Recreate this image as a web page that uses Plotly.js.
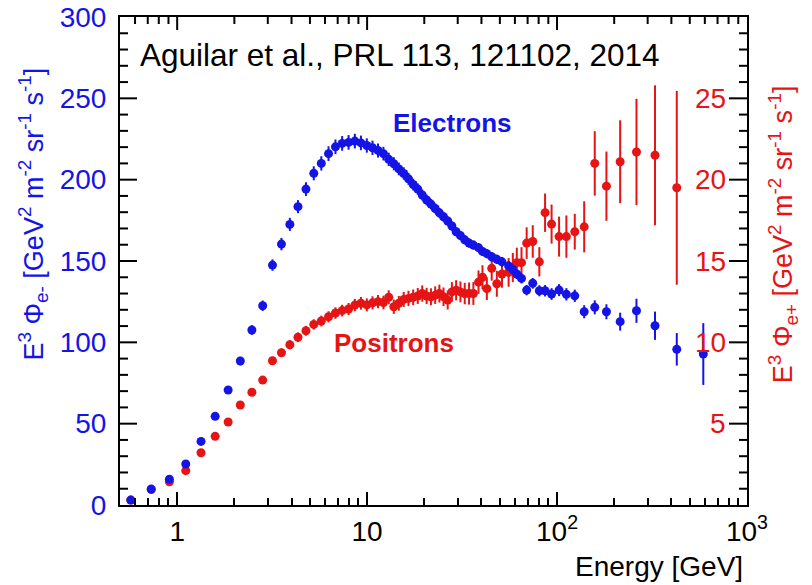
<!DOCTYPE html>
<html><head><meta charset="utf-8">
<script src="https://cdn.plot.ly/plotly-3.0.1.min.js"></script>
<style>html,body{margin:0;padding:0;background:#fff}</style>
</head><body><div id="chart" style="width:812px;height:585px"></div>
<script>
// Energy bin centres [GeV]
const energy = [0.570,0.730,0.910,1.110,1.335,1.585,1.855,2.150,2.474,2.820,
  3.175,3.540,3.920,4.325,4.765,5.239,5.740,6.265,6.814,7.389,
  7.989,8.620,9.279,9.965,10.674,11.413,12.189,12.994,13.824,14.689,
  15.589,16.518,17.483,18.480,19.509,20.578,21.684,22.828,24.012,25.252,
  26.567,27.955,29.435,31.004,32.659,34.411,36.273,38.6,40.5,42.7,
  45.3,48.2,51.3,55.6,58.5,61.4,65.0,69.2,74.5,80.7,
  86.5,93.6,102.5,112,124,139,158,182,215,262,
  328,427,589];
// E^3 * electron flux (left axis)
const electronFlux = [3.0,9.8,15.8,25.2,39.1,54.5,70.7,88.5,107.6,122.5,
  147.5,160.4,172.5,183.4,194.2,203.9,210.0,216.0,220.2,222.3,
  222.9,223.7,222.6,221.0,219.6,218.0,216.0,212.5,209.8,206.6,
  203.8,200.5,197.0,194.2,190.6,187.5,185.0,182.3,179.6,177.2,
  174.6,171.5,168.0,165.6,163.0,161.0,159.8,158.2,155.9,154.5,
  152.6,151.0,149.5,147.0,144.8,142.0,139.3,132.1,136.3,131.7,
  131.7,129.7,132.1,129.5,128.6,118.8,121.5,118.8,112.7,119.4,
  110.2,95.7,92.8];
const electronErr = [0.5,0.7,0.9,1.2,1.5,1.8,2.2,2.6,3.0,3.2,
  3.5,3.8,4.0,4.0,4.2,4.3,4.4,4.5,4.5,4.5,
  4.5,4.5,4.5,4.4,4.4,4.3,4.2,4.1,4.0,3.9,
  3.8,3.7,3.6,3.5,3.4,3.3,3.2,3.1,3.0,3.0,
  2.9,2.9,2.8,2.8,2.8,2.8,2.8,2.8,2.8,2.8,
  2.9,2.9,3.0,3.0,3.0,3.1,3.1,3.2,3.3,3.4,
  3.5,3.6,3.7,3.8,3.8,4.0,4.3,4.6,5.5,7.4,
  8.7,10.0,19.0];
// E^3 * positron flux (right axis)
const positronEnergy = energy.slice(0, 72);
const positronFlux = [0.30,0.95,1.43,2.11,3.21,4.22,5.10,6.15,6.93,7.68,
  8.87,9.36,9.85,10.31,10.71,11.10,11.31,11.57,11.80,11.95,
  12.05,12.29,12.40,12.30,12.43,12.50,12.45,12.77,12.19,12.40,
  12.64,12.70,12.77,12.85,13.00,12.85,12.80,12.90,13.00,12.80,
  12.60,13.10,13.20,13.10,13.00,13.00,13.00,13.70,14.00,13.30,
  14.55,13.60,14.20,14.30,14.60,14.90,14.90,16.10,16.20,14.95,
  17.97,17.27,16.50,16.50,16.80,17.10,21.00,19.60,21.10,21.70,
  21.50,19.50];
const positronErr = [0.05,0.06,0.08,0.10,0.12,0.14,0.16,0.18,0.20,0.22,
  0.24,0.26,0.28,0.30,0.30,0.32,0.33,0.34,0.35,0.36,
  0.37,0.38,0.39,0.40,0.40,0.41,0.42,0.43,0.44,0.45,
  0.46,0.47,0.48,0.49,0.50,0.50,0.52,0.54,0.55,0.57,
  0.58,0.60,0.62,0.64,0.66,0.68,0.70,0.72,0.74,0.70,
  0.76,0.80,0.84,0.88,0.90,0.92,0.95,0.97,1.00,0.90,
  1.18,1.20,1.23,1.30,1.10,1.57,1.98,2.13,2.55,3.27,
  4.30,5.96];

const xTickVals = [1, 10, 100, 1000];
const xTickText = ['1', '10', '10<sup>2</sup>', '10<sup>3</sup>'];
const rightTickVals = [5, 10, 15, 20, 25];
const xMinorVals = [];
for (let d = -1; d < 3; d++) for (let k = 2; k <= 9; k++) {
  const v = k * Math.pow(10, d); if (v > 0.5) xMinorVals.push(v);
}

const BLUE = '#1414e6', RED = '#e61414';
const FONT = 'Liberation Sans, Arial, Helvetica, sans-serif';
const XR = [Math.log10(0.5), Math.log10(1000.5)];

// positrons on the base y axis (right scale); electrons on the overlay (left scale) so they draw on top
const traces = [
  {x: positronEnergy, y: positronFlux, xaxis: 'x', yaxis: 'y', type: 'scatter', mode: 'markers',
   marker: {color: RED, size: 9},
   error_y: {type: 'data', array: positronErr, visible: true, color: RED, thickness: 2, width: 0},
   showlegend: false, hoverinfo: 'skip'},
  {x: energy, y: electronFlux, xaxis: 'x', yaxis: 'y2', type: 'scatter', mode: 'markers',
   marker: {color: BLUE, size: 9},
   error_y: {type: 'data', array: electronErr, visible: true, color: BLUE, thickness: 2, width: 0},
   showlegend: false, hoverinfo: 'skip'}
];

// inward tick marks on the left, right and top frame edges, placed through the axis scales
const shapes = [];
const tickLine = {type: 'line', layer: 'above', line: {color: 'black', width: 2}};
for (let v = 10; v < 300; v += 10) {
  shapes.push(Object.assign({}, tickLine, {xref: 'paper', xsizemode: 'pixel', xanchor: 0,
    x0: 0, x1: (v % 50 === 0) ? 17 : 8, yref: 'y2', y0: v, y1: v}));
}
for (let v = 1; v < 30; v++) {
  shapes.push(Object.assign({}, tickLine, {xref: 'paper', xsizemode: 'pixel', xanchor: 1,
    x0: 0, x1: (v % 5 === 0) ? -18 : -8, yref: 'y', y0: v, y1: v}));
}
xTickVals.slice(0, 3).forEach(v => shapes.push(Object.assign({}, tickLine, {xref: 'x', x0: v, x1: v,
  yref: 'paper', ysizemode: 'pixel', yanchor: 1, y0: 0, y1: -13})));
xMinorVals.forEach(v => shapes.push(Object.assign({}, tickLine, {xref: 'x', x0: v, x1: v,
  yref: 'paper', ysizemode: 'pixel', yanchor: 1, y0: 0, y1: -7})));

const annotations = [
  {xref: 'paper', yref: 'paper', x: 0.0287, y: 0.922, xanchor: 'left', yanchor: 'middle',
   text: 'Aguilar et al., PRL 113, 121102, 2014', showarrow: false,
   font: {family: FONT, size: 31.5, color: 'black'}},
  {xref: 'paper', yref: 'paper', x: 0.531, y: 0.783, xanchor: 'center', yanchor: 'middle',
   text: '<b>Electrons</b>', showarrow: false, font: {family: FONT, size: 26, color: BLUE}},
  {xref: 'paper', yref: 'paper', x: 0.437, y: 0.332, xanchor: 'center', yanchor: 'middle',
   text: '<b>Positrons</b>', showarrow: false, font: {family: FONT, size: 26, color: RED}},
  {xref: 'paper', yref: 'paper', x: 0.997, y: -0.127, xanchor: 'right', yanchor: 'middle',
   text: 'Energy [GeV]', showarrow: false, font: {family: FONT, size: 28, color: 'black'}},
  {xref: 'paper', yref: 'paper', x: -0.139, y: 0.597, xanchor: 'center', yanchor: 'middle', textangle: -90,
   text: 'E<sup>3</sup> Φ<sub>e-</sub> [GeV<sup>2</sup> m<sup>-2</sup> sr<sup>-1</sup> s<sup>-1</sup>]',
   showarrow: false, font: {family: FONT, size: 27, color: BLUE}},
  {xref: 'paper', yref: 'paper', x: 1.0574, y: 0.555, xanchor: 'center', yanchor: 'middle', textangle: -90,
   text: 'E<sup>3</sup> Φ<sub>e+</sub> [GeV<sup>2</sup> m<sup>-2</sup> sr<sup>-1</sup> s<sup>-1</sup>]',
   showarrow: false, font: {family: FONT, size: 27, color: RED}}
];
// right-axis tick labels sit inside the frame, as in the original
rightTickVals.forEach(v => annotations.push({xref: 'paper', yref: 'y', x: 0.9697, y: v,
  xanchor: 'right', yanchor: 'middle', text: String(v), showarrow: false,
  font: {family: FONT, size: 28, color: RED}}));

const layout = {
  width: 812, height: 585,
  margin: {l: 120, r: 65, t: 17, b: 80, pad: 0},
  paper_bgcolor: 'white', plot_bgcolor: 'white',
  font: {family: FONT, size: 28, color: 'black'},
  xaxis: {type: 'log', range: XR,
    tickmode: 'array', tickvals: xTickVals, ticktext: xTickText,
    ticks: 'inside', ticklen: 13, tickwidth: 2, tickcolor: 'black',
    showline: true, linecolor: 'black', linewidth: 2, mirror: true,
    showgrid: false, zeroline: false, ticklabelstandoff: 0,
    tickfont: {family: FONT, size: 28, color: 'black'},
    minor: {ticks: 'inside', ticklen: 7, tickwidth: 2, tickcolor: 'black', showgrid: false,
      tickmode: 'array', tickvals: xMinorVals}},
  yaxis: {range: [0, 30], side: 'right', anchor: 'x',
    ticks: '', showline: true, linecolor: 'black', linewidth: 2,
    showgrid: false, zeroline: false, showticklabels: false},
  yaxis2: {range: [0, 300], overlaying: 'y', anchor: 'x', side: 'left',
    tickmode: 'linear', tick0: 0, dtick: 50,
    ticks: '', showline: true, linecolor: 'black', linewidth: 2,
    showgrid: false, zeroline: false, ticklabelstandoff: 6,
    tickfont: {family: FONT, size: 28, color: BLUE}},
  shapes: shapes,
  annotations: annotations
};

Plotly.newPlot('chart', traces, layout, {displayModeBar: false});
</script></body></html>
